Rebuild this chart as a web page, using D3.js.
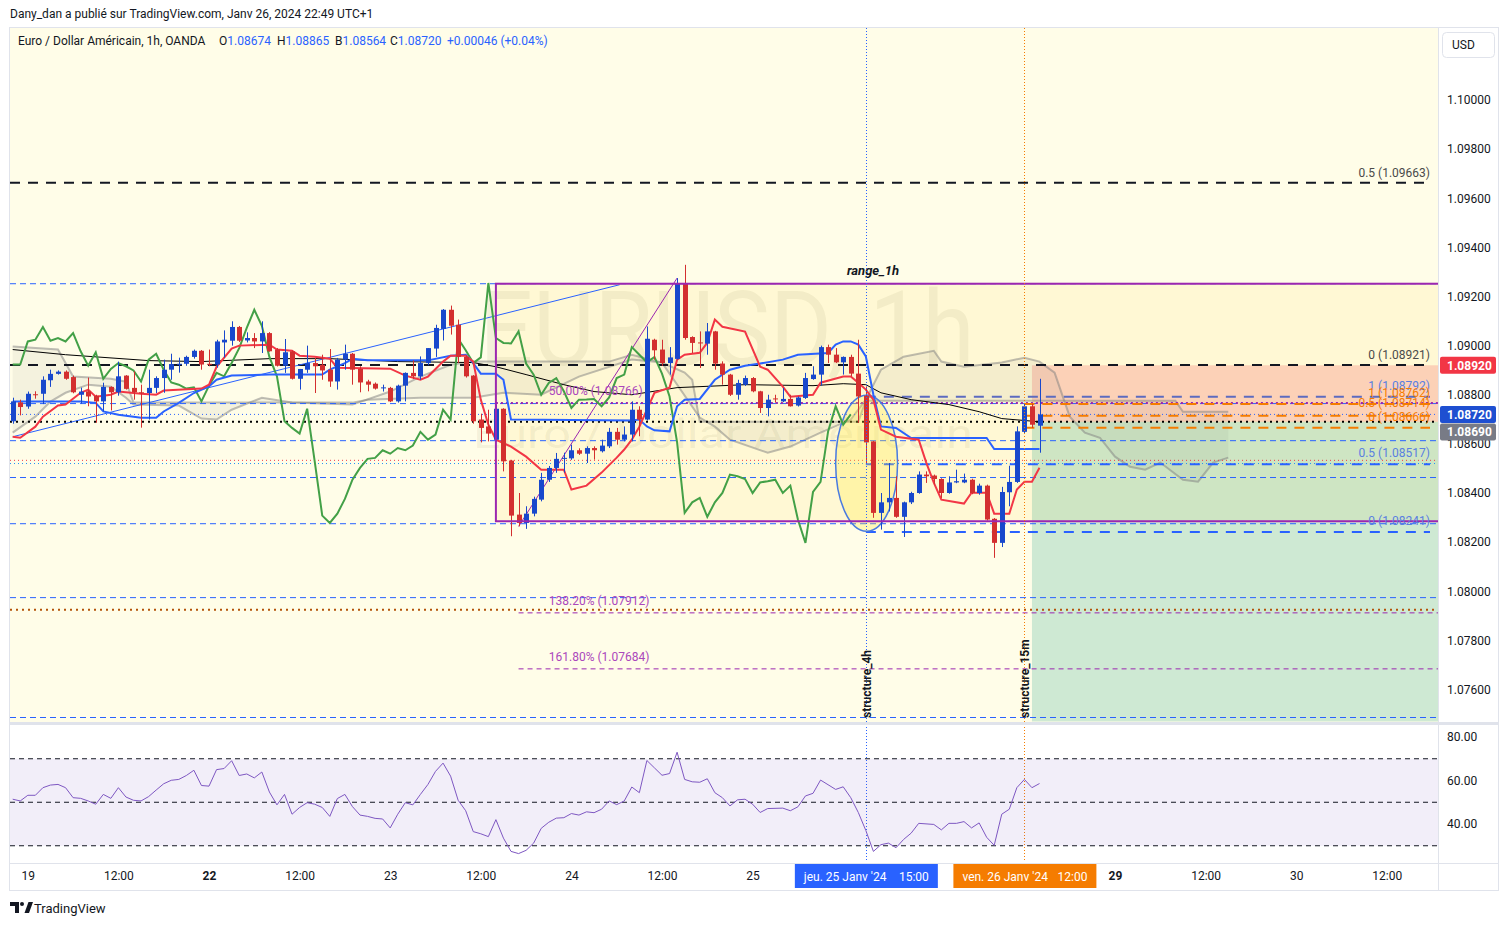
<!DOCTYPE html>
<html>
<head>
<meta charset="utf-8">
<script src="https://cdn.jsdelivr.net/npm/d3@7"></script>
<style>
  body { margin: 0; background: #fff; }
  svg { display: block; font-family: Roboto, "Liberation Sans", sans-serif; }
</style>
</head>
<body>
<script>
// EURUSD 1h candles, [open, high, low, close], bar 0 = 18 Jan 22:00
var candles = [
  [1.08692,1.08788,1.08682,1.08773],[1.08769,1.08780,1.08716,1.08750],[1.08752,1.08813,1.08743,1.08804],
  [1.08802,1.08814,1.08784,1.08798],[1.08804,1.08875,1.08762,1.08861],[1.08859,1.08902,1.08832,1.08885],
  [1.08885,1.08899,1.08882,1.08894],[1.08894,1.08899,1.08861,1.08865],[1.08872,1.08878,1.08806,1.08810],
  [1.08800,1.08829,1.08764,1.08813],[1.08814,1.08870,1.08753,1.08793],[1.08796,1.08800,1.08686,1.08773],
  [1.08773,1.08849,1.08732,1.08832],[1.08832,1.08834,1.08736,1.08810],[1.08810,1.08935,1.08796,1.08875],
  [1.08878,1.08880,1.08821,1.08824],[1.08828,1.08895,1.08780,1.08810],[1.08810,1.08841,1.08666,1.08807],
  [1.08807,1.08902,1.08699,1.08828],[1.08828,1.08875,1.08807,1.08868],[1.08868,1.08943,1.08808,1.08902],
  [1.08902,1.08967,1.08861,1.08925],[1.08924,1.08951,1.08890,1.08926],[1.08926,1.08959,1.08918,1.08954],
  [1.08954,1.08984,1.08947,1.08979],[1.08979,1.08982,1.08902,1.08923],[1.08926,1.08984,1.08916,1.08923],
  [1.08923,1.09024,1.08910,1.09017],[1.09013,1.09062,1.08951,1.09024],[1.09020,1.09099,1.09000,1.09076],
  [1.09076,1.09080,1.09015,1.09020],[1.09021,1.09054,1.09013,1.09031],[1.09031,1.09051,1.08990,1.09017],
  [1.09017,1.09099,1.08970,1.09051],[1.09051,1.09055,1.08975,1.08977],[1.08984,1.08990,1.08915,1.08918],
  [1.08918,1.09027,1.08889,1.08973],[1.08977,1.08980,1.08862,1.08865],[1.08865,1.08905,1.08821,1.08905],
  [1.08902,1.09000,1.08889,1.08929],[1.08929,1.08950,1.08807,1.08916],[1.08922,1.08963,1.08861,1.08899],
  [1.08902,1.08986,1.08832,1.08854],[1.08854,1.08950,1.08821,1.08943],[1.08943,1.09004,1.08902,1.08967],
  [1.08967,1.08970,1.08841,1.08902],[1.08905,1.08916,1.08810,1.08850],[1.08854,1.08861,1.08814,1.08841],
  [1.08845,1.08850,1.08821,1.08825],[1.08826,1.08841,1.08813,1.08830],[1.08828,1.08832,1.08770,1.08773],
  [1.08773,1.08841,1.08768,1.08837],[1.08837,1.08891,1.08773,1.08889],[1.08889,1.08940,1.08864,1.08875],
  [1.08875,1.08956,1.08861,1.08929],[1.08929,1.08990,1.08920,1.08990],[1.08988,1.09085,1.08954,1.09072],
  [1.09068,1.09149,1.09021,1.09146],[1.09146,1.09163,1.09045,1.09081],[1.09085,1.09106,1.08929,1.08954],
  [1.08954,1.08960,1.08870,1.08875],[1.08878,1.08880,1.08682,1.08692],[1.08699,1.08723,1.08606,1.08665],
  [1.08671,1.08739,1.08610,1.08642],[1.08617,1.08760,1.08609,1.08743],[1.08743,1.08745,1.08488,1.08529],
  [1.08532,1.08535,1.08224,1.08308],[1.08312,1.08400,1.08264,1.08278],[1.08278,1.08346,1.08254,1.08316],
  [1.08316,1.08385,1.08305,1.08376],[1.08373,1.08482,1.08366,1.08454],[1.08454,1.08510,1.08445,1.08502],
  [1.08502,1.08563,1.08482,1.08539],[1.08539,1.08564,1.08483,1.08543],[1.08541,1.08597,1.08535,1.08574],
  [1.08574,1.08582,1.08555,1.08560],[1.08560,1.08590,1.08522,1.08583],[1.08583,1.08590,1.08536,1.08574],
  [1.08570,1.08617,1.08565,1.08593],[1.08590,1.08665,1.08583,1.08649],[1.08649,1.08665,1.08597,1.08617],
  [1.08617,1.08671,1.08610,1.08638],[1.08638,1.08773,1.08610,1.08739],[1.08739,1.08753,1.08631,1.08699],
  [1.08699,1.09078,1.08695,1.09028],[1.09024,1.09028,1.08943,1.08981],[1.08984,1.09024,1.08918,1.08929],
  [1.08929,1.08994,1.08882,1.08952],[1.08946,1.09275,1.08943,1.09255],[1.09255,1.09329,1.09024,1.09031],
  [1.09035,1.09038,1.08970,1.09011],[1.09013,1.09058,1.08909,1.09009],[1.09008,1.09092,1.08963,1.09058],
  [1.09058,1.09060,1.08902,1.08927],[1.08927,1.08936,1.08841,1.08882],[1.08882,1.08885,1.08795,1.08800],
  [1.08800,1.08861,1.08780,1.08848],[1.08841,1.08878,1.08836,1.08868],[1.08868,1.08872,1.08810,1.08814],
  [1.08814,1.08816,1.08726,1.08746],[1.08746,1.08800,1.08712,1.08780],[1.08785,1.08800,1.08768,1.08781],
  [1.08773,1.08828,1.08770,1.08783],[1.08783,1.08800,1.08752,1.08753],[1.08756,1.08793,1.08752,1.08789],
  [1.08787,1.08889,1.08783,1.08868],[1.08864,1.08916,1.08861,1.08882],[1.08882,1.09000,1.08837,1.08994],
  [1.08994,1.09004,1.08929,1.08963],[1.08963,1.08990,1.08929,1.08932],[1.08932,1.08956,1.08882,1.08954],
  [1.08954,1.08963,1.08875,1.08886],[1.08886,1.09024,1.08685,1.08793],[1.08796,1.08834,1.08522,1.08606],
  [1.08610,1.08612,1.08299,1.08319],[1.08319,1.08400,1.08251,1.08362],[1.08362,1.08522,1.08325,1.08380],
  [1.08380,1.08468,1.08299,1.08303],[1.08303,1.08365,1.08221,1.08362],[1.08362,1.08405,1.08355,1.08400],
  [1.08400,1.08488,1.08397,1.08475],[1.08475,1.08488,1.08441,1.08468],[1.08471,1.08475,1.08434,1.08457],
  [1.08457,1.08460,1.08380,1.08400],[1.08400,1.08468,1.08397,1.08443],[1.08443,1.08495,1.08440,1.08448],
  [1.08443,1.08479,1.08440,1.08454],[1.08454,1.08458,1.08395,1.08400],[1.08400,1.08438,1.08393,1.08430],
  [1.08430,1.08434,1.08288,1.08292],[1.08295,1.08298,1.08136,1.08197],[1.08197,1.08425,1.08180,1.08404],
  [1.08403,1.08511,1.08346,1.08445],[1.08445,1.08671,1.08441,1.08651],[1.08649,1.08767,1.08644,1.08753],
  [1.08753,1.08764,1.08665,1.08678],[1.08674,1.08865,1.08564,1.08720]
];

// ichimoku lines, [bar, price]
var tenkan = [[0,1.08629],[1,1.08625],[3,1.08670],[4,1.08711],[6,1.08756],[7,1.08760],[9,1.08808],[10,1.08821],
  [11,1.08792],[13,1.08800],[14,1.08813],[17,1.08804],[19,1.08800],[20,1.08817],[25,1.08825],[26,1.08841],
  [27,1.08914],[29,1.08988],[30,1.09000],[34,1.09004],[35,1.08984],[37,1.08979],[38,1.08959],[40,1.08955],
  [42,1.08947],[43,1.08910],[50,1.08906],[52,1.08878],[54,1.08861],[55,1.08874],[57,1.08935],[58,1.08959],
  [60,1.08959],[61,1.08935],[62,1.08780],[63,1.08678],[64,1.08617],[66,1.08589],[68,1.08548],[70,1.08495],
  [73,1.08495],[74,1.08414],[76,1.08430],[78,1.08483],[80,1.08544],[81,1.08577],[82,1.08617],[83,1.08670],
  [85,1.08808],[87,1.08829],[88,1.08943],[89,1.08963],[91,1.08971],[92,1.09012],[93,1.09106],[94,1.09077],
  [97,1.09057],[99,1.08914],[100,1.08902],[102,1.08833],[103,1.08792],[106,1.08800],[107,1.08849],
  [110,1.08874],[111,1.08874],[112,1.08849],[113,1.08821],[114,1.08780],[115,1.08658],[117,1.08629],
  [120,1.08617],[121,1.08524],[122,1.08442],[123,1.08373],[126,1.08357],[127,1.08401],[129,1.08401],
  [130,1.08316],[132,1.08316],[133,1.08414],[134,1.08446],[135,1.08446],[136,1.08503]];
var kijun = [[0,1.08773],[9,1.08773],[11,1.08767],[12,1.08732],[14,1.08719],[17,1.08706],[19,1.08706],
  [20,1.08732],[22,1.08767],[24,1.08807],[26,1.08834],[27,1.08861],[29,1.08878],[34,1.08882],[41,1.08882],
  [42,1.08902],[44,1.08929],[45,1.08946],[47,1.08940],[55,1.08940],[58,1.08959],[60,1.08963],[61,1.08929],
  [62,1.08886],[64,1.08886],[65,1.08861],[66,1.08699],[82,1.08695],[83,1.08699],[84,1.08671],[85,1.08655],
  [87,1.08651],[88,1.08753],[89,1.08780],[91,1.08783],[93,1.08861],[95,1.08902],[97,1.08918],[99,1.08927],
  [102,1.08943],[104,1.08963],[108,1.08970],[109,1.09004],[110,1.09017],[111,1.09017],[112,1.09004],
  [113,1.08956],[114,1.08800],[115,1.08671],[117,1.08665],[119,1.08624],[129,1.08624],[130,1.08579],
  [136,1.08579]];
var spanA = [[0,1.08996],[6,1.08984],[8,1.08874],[13,1.08865],[15,1.08853],[16,1.08768],[45,1.08768],
  [47,1.08780],[54,1.08788],[61,1.08788],[65,1.08808],[70,1.08800],[75,1.08874],[82,1.08943],[86,1.08931],
  [89,1.08890],[90,1.08861],[91,1.08690],[112,1.08690],[113,1.08776],[154,1.08776],[155,1.08731],[161,1.08731]];
var spanB = [[0,1.08646],[3,1.08711],[5,1.08772],[7,1.08808],[10,1.08841],[13,1.08833],[15,1.08788],
  [16,1.08760],[22,1.08756],[25,1.08703],[27,1.08699],[29,1.08739],[33,1.08788],[37,1.08768],[45,1.08760],
  [50,1.08813],[54,1.08874],[58,1.08922],[61,1.08935],[79,1.08935],[82,1.08963],[86,1.08931],[91,1.08707],
  [93,1.08670],[95,1.08617],[100,1.08564],[103,1.08589],[107,1.08646],[111,1.08699],[113,1.08780],
  [115,1.08902],[118,1.08955],[122,1.08979],[123,1.08935],[126,1.08914],[131,1.08931],[134,1.08951],
  [136,1.08935],[138,1.08890],[140,1.08711],[142,1.08646],[144,1.08625],[146,1.08548],[148,1.08507],
  [150,1.08495],[152,1.08524],[155,1.08454],[157,1.08446],[159,1.08524],[161,1.08544]];
var chikouShift = 25;

// slow moving average
var ma = [[0,1.08984],[7,1.08963],[18,1.08939],[25,1.08935],[34,1.08947],[42,1.08947],[51,1.08935],
  [61,1.08931],[64,1.08914],[68,1.08882],[73,1.08841],[77,1.08813],[82,1.08800],[88,1.08829],[97,1.08841],
  [106,1.08837],[110,1.08845],[113,1.08841],[115,1.08808],[119,1.08780],[124,1.08760],[128,1.08731],
  [131,1.08703],[136,1.08690]];

// RSI 14, [bar, value]
var rsi = [[0,51.4],[1,50.6],[2,53.2],[3,53.2],[4,56.7],[5,57.9],[6,58.2],[7,56.7],[8,52.1],[9,51.8],
  [10,50.6],[11,49.1],[12,53.6],[13,51.8],[14,56.7],[15,52.4],[16,50.9],[17,50.6],[18,52.6],[19,55.6],
  [20,58.5],[21,60.1],[22,60.5],[23,62.3],[24,64.7],[25,57.7],[26,57.4],[27,65.0],[28,65.5],[29,69.1],
  [30,62.3],[31,63.0],[32,61.2],[33,63.9],[34,54.7],[35,48.8],[36,53.6],[37,44.5],[38,47.6],[39,49.8],
  [40,49.1],[41,47.6],[42,43.5],[43,51.7],[44,53.6],[45,48.0],[46,44.1],[47,43.5],[48,42.6],[49,42.3],
  [50,38.2],[51,44.5],[52,49.8],[53,48.8],[54,53.6],[55,58.2],[56,64.2],[57,68.0],[58,62.0],[59,50.9],
  [60,46.1],[61,36.5],[62,35.5],[63,34.2],[64,42.0],[65,33.5],[66,27.4],[67,26.4],[68,27.9],[69,31.2],
  [70,38.0],[71,40.8],[72,42.7],[73,42.9],[74,44.8],[75,44.1],[76,45.6],[77,45.2],[78,46.8],[79,50.6],
  [80,48.9],[81,50.6],[82,57.0],[83,54.4],[84,69.2],[85,65.8],[86,62.4],[87,63.2],[88,73.0],[89,60.5],
  [90,59.4],[91,59.2],[92,60.8],[93,54.4],[94,52.1],[95,48.3],[96,51.1],[97,51.4],[98,49.1],[99,45.3],
  [100,47.1],[102,47.3],[103,46.1],[104,47.9],[105,52.9],[106,54.1],[107,60.2],[109,55.9],[110,57.1],
  [111,52.1],[112,45.3],[113,37.0],[114,27.4],[115,30.5],[116,31.2],[117,29.1],[118,32.9],[119,35.8],
  [120,40.3],[122,39.8],[123,37.3],[124,40.3],[125,40.3],[126,41.1],[127,38.2],[128,40.5],[129,33.9],
  [130,30.2],[131,44.5],[132,46.8],[133,56.7],[134,60.5],[135,56.7],[136,58.6]];
var rsiBands = [70, 50, 30];

// drawings
var trendBlue = [[0,1.08629],[80.4,1.09248]];
var trendPurple = [[67,1.08264],[88,1.09275]];
var rangeBox = {bar: 64, top: 1.09252, bottom: 1.08285, label: "range_1h"};
var blackFib = [{label: "0.5", price: 1.09663}, {label: "0", price: 1.08921}];
var blueFib = [{label: "1", price: 1.08792}, {label: "0.5", price: 1.08517}, {label: "0", price: 1.08241}];
var orangeFib = [{label: "1", price: 1.08762}, {label: "0.5", price: 1.08714}, {label: "0", price: 1.08666}];
var extFib = [{label: "50.00%", price: 1.08766}, {label: "138.20%", price: 1.07912}, {label: "161.80%", price: 1.07684}];
var blueDashLevels = [1.09252, 1.08764, 1.08613, 1.08463, 1.08275, 1.07974, 1.07486];
var redDotLevel = 1.08533, cyanDotLevel = 1.08520, brownDotLevel = 1.07925, entryLevel = 1.08690;
var position = {bar: 135, entry: 1.08690, stop: 1.08920, target: 1.07470};
var oval = {bars: [109, 117.2], prices: [1.08798, 1.08244]};
var markers = [{bar: 113, name: "structure_4h", date: "jeu. 25 Janv '24", time: "15:00"},
               {bar: 134, name: "structure_15m", date: "ven. 26 Janv '24", time: "12:00"}];

// axes
var priceTicks = [1.076, 1.078, 1.080, 1.082, 1.084, 1.086, 1.088, 1.090, 1.092, 1.094, 1.096, 1.098, 1.100];
var rsiTicks = [40, 60, 80];
var timeBars = [2, 14, 26, 38, 50, 62, 74, 86, 98, 146, 158, 170, 182];
var timeLabels = ["19", "12:00", "22", "12:00", "23", "12:00", "24", "12:00", "25", "29", "12:00", "30", "12:00"];
var boldTimes = ["22", "29"];
var lastPrice = {open: 1.08674, high: 1.08865, low: 1.08564, close: 1.08720, change: "+0.00046 (+0.04%)"};

var totalWidth = 1508;
var totalHeight = 926;
var pane = {left: 10, right: 1438, top: 28, bottom: 722};
var rsiPane = {top: 725, bottom: 862};
var axisBottomY = 863;
var fibRight = 1430;

var upColor = "#1848cc", downColor = "#d32f2f";

var x = d3.scaleLinear().domain([0, 136]).range([12.7, 12.7 + 136 * 7.55]);
var y = d3.scaleLinear().domain([1.076, 1.100]).range([689.5, 100]);
var yR = d3.scaleLinear().domain([40, 80]).range([824, 737]);

var line = d3.line()
  .x(function(d) { return x(d[0]); })
  .y(function(d) { return y(d[1]); });

function translation(tx, ty) {
  return "translate(" + tx + "," + ty + ")";
}

var svg = d3.select("body").append("svg")
  .attr("width", totalWidth)
  .attr("height", totalHeight);

svg.append("rect").attr("width", totalWidth).attr("height", totalHeight).attr("fill", "#fff");

// header
svg.append("text")
  .attr("x", 10).attr("y", 18)
  .attr("font-size", 12).attr("fill", "#131722")
  .text("Dany_dan a publié sur TradingView.com, Janv 26, 2024 22:49 UTC+1");

// frame
svg.append("rect")
  .attr("x", 9.5).attr("y", 27.5).attr("width", 1489).attr("height", 863)
  .attr("fill", "none").attr("stroke", "#e0e3eb");

var defs = svg.append("defs");
defs.append("clipPath").attr("id", "clipMain").append("rect")
  .attr("x", pane.left).attr("y", pane.top)
  .attr("width", pane.right - pane.left).attr("height", pane.bottom - pane.top);
defs.append("clipPath").attr("id", "clipRsi").append("rect")
  .attr("x", pane.left).attr("y", rsiPane.top)
  .attr("width", pane.right - pane.left).attr("height", rsiPane.bottom - rsiPane.top);

var main = svg.append("g").attr("clip-path", "url(#clipMain)");

main.append("rect")
  .attr("x", pane.left).attr("y", pane.top)
  .attr("width", pane.right - pane.left).attr("height", pane.bottom - pane.top)
  .attr("fill", "#fffde8");

// range box fill
main.append("rect")
  .attr("x", x(rangeBox.bar)).attr("y", y(rangeBox.top))
  .attr("width", pane.right - x(rangeBox.bar) + 5)
  .attr("height", y(rangeBox.bottom) - y(rangeBox.top))
  .attr("fill", "rgba(255,213,79,0.13)");

// short position zones
main.append("rect")
  .attr("x", x(position.bar)).attr("y", y(position.stop))
  .attr("width", pane.right - x(position.bar))
  .attr("height", y(position.entry) - y(position.stop))
  .attr("fill", "rgba(242,54,69,0.2)");
main.append("rect")
  .attr("x", x(position.bar)).attr("y", y(position.entry))
  .attr("width", pane.right - x(position.bar))
  .attr("height", y(position.target) - y(position.entry))
  .attr("fill", "rgba(8,153,129,0.2)");

// watermark
main.append("text")
  .attr("x", 727).attr("y", 365)
  .attr("text-anchor", "middle")
  .attr("font-size", 104)
  .attr("textLength", 495).attr("lengthAdjust", "spacingAndGlyphs")
  .attr("fill", "rgba(90,80,30,0.07)")
  .text("EURUSD, 1h");
main.append("text")
  .attr("x", 723).attr("y", 448)
  .attr("text-anchor", "middle")
  .attr("font-size", 40)
  .attr("textLength", 500).attr("lengthAdjust", "spacingAndGlyphs")
  .attr("fill", "rgba(90,80,30,0.07)")
  .text("Euro / Dollar Américain");

// cloud
var cloudPts = spanA.concat(spanB.slice().reverse());
main.append("path")
  .attr("d", line(cloudPts) + "Z")
  .attr("fill", "rgba(120,120,110,0.08)")
  .attr("fill-rule", "evenodd");
[spanA, spanB].forEach(function(s) {
  main.append("path")
    .attr("d", line(s))
    .attr("fill", "none")
    .attr("stroke", "rgba(128,128,128,0.5)")
    .attr("stroke-width", 2);
});

var hline = function(g, price, x1, x2, color, width, dash) {
  g.append("line")
    .attr("x1", x1).attr("x2", x2)
    .attr("y1", y(price)).attr("y2", y(price))
    .attr("stroke", color)
    .attr("stroke-width", width)
    .attr("stroke-dasharray", dash);
};

// horizontal levels
blueDashLevels.forEach(function(p) {
  hline(main, p, pane.left, pane.right, "#2962ff", 1, "6,4");
});
hline(main, redDotLevel, pane.left, pane.right, "#f23645", 1, "1,3");
hline(main, cyanDotLevel, pane.left, pane.right, "#2196f3", 1, "1,3");
hline(main, brownDotLevel, pane.left, pane.right, "#b45309", 2, "2,4");
hline(main, lastPrice.close, pane.left, pane.right, "#2962ff", 1, "1,3");
hline(main, entryLevel, pane.left, pane.right, "#000", 2, "2,4");

blackFib.forEach(function(f) {
  hline(main, f.price, pane.left, fibRight, "#131722", 2, "10,8");
});
extFib.forEach(function(f, i) {
  var start = i === 0 ? x(rangeBox.bar) : x(67);
  hline(main, f.price, start, pane.right, "#9c27b0", i === 0 ? 2 : 1, i === 0 ? "2,3" : "5,4");
});
blueFib.forEach(function(f, i) {
  hline(main, f.price, x(113), fibRight, i === 0 ? "#5c6bc0" : "#2962ff", 2, "10,8");
});
orangeFib.forEach(function(f) {
  hline(main, f.price, x(134), fibRight, "#f57c00", 2, "10,8");
});

// oval
main.append("ellipse")
  .attr("cx", (x(oval.bars[0]) + x(oval.bars[1])) / 2)
  .attr("cy", (y(oval.prices[0]) + y(oval.prices[1])) / 2)
  .attr("rx", (x(oval.bars[1]) - x(oval.bars[0])) / 2)
  .attr("ry", (y(oval.prices[1]) - y(oval.prices[0])) / 2)
  .attr("fill", "rgba(255,235,59,0.28)")
  .attr("stroke", "#4a7be0")
  .attr("stroke-width", 1.5);

// trend lines
main.append("path").attr("d", line(trendBlue))
  .attr("fill", "none").attr("stroke", "#2962ff").attr("stroke-width", 1);
main.append("path").attr("d", line(trendPurple))
  .attr("fill", "none").attr("stroke", "#9c27b0").attr("stroke-width", 1);

// indicators
var chikou = d3.range(0, candles.length - chikouShift).map(function(b) {
  return [b, candles[b + chikouShift][3]];
});
main.append("path").attr("d", line(ma))
  .attr("fill", "none").attr("stroke", "#000").attr("stroke-width", 1);
main.append("path").attr("d", line(chikou))
  .attr("fill", "none").attr("stroke", "#43a047").attr("stroke-width", 2);
main.append("path").attr("d", line(kijun))
  .attr("fill", "none").attr("stroke", "#2962ff").attr("stroke-width", 2);
main.append("path").attr("d", line(tenkan))
  .attr("fill", "none").attr("stroke", "#f23645").attr("stroke-width", 2);

// candles
var bars = main.append("g").selectAll("g")
  .data(candles)
  .enter().append("g");
bars.append("line")
  .attr("x1", function(d, i) { return Math.round(x(i)) + 0.5; })
  .attr("x2", function(d, i) { return Math.round(x(i)) + 0.5; })
  .attr("y1", function(d) { return y(d[1]); })
  .attr("y2", function(d) { return y(d[2]); })
  .attr("stroke", function(d) { return d[3] >= d[0] ? upColor : downColor; });
bars.append("rect")
  .attr("x", function(d, i) { return Math.round(x(i)) - 2; })
  .attr("width", 5)
  .attr("y", function(d) { return y(Math.max(d[0], d[3])); })
  .attr("height", function(d) { return Math.max(1, Math.abs(y(d[0]) - y(d[3]))); })
  .attr("fill", function(d) { return d[3] >= d[0] ? upColor : downColor; });

// range box outline and name
main.append("rect")
  .attr("x", x(rangeBox.bar)).attr("y", y(rangeBox.top))
  .attr("width", pane.right - x(rangeBox.bar) + 5)
  .attr("height", y(rangeBox.bottom) - y(rangeBox.top))
  .attr("fill", "none").attr("stroke", "#9c27b0").attr("stroke-width", 2);
main.append("text")
  .attr("x", 873).attr("y", y(rangeBox.top) - 9)
  .attr("text-anchor", "middle")
  .attr("font-size", 13).attr("font-weight", "bold").attr("font-style", "italic")
  .attr("fill", "#131722")
  .text(rangeBox.label);

// fib labels
var fmt5 = d3.format(".5f");
var fibLabel = function(list, color, xPos, anchor, dy) {
  list.forEach(function(f, i) {
    main.append("text")
      .attr("x", xPos).attr("y", y(f.price) - dy[i])
      .attr("text-anchor", anchor)
      .attr("font-size", 12)
      .attr("fill", color)
      .text(f.label + " (" + fmt5(f.price) + ")");
  });
};
fibLabel(blackFib, "#4a4a4a", fibRight, "end", [6, 6]);
fibLabel(blueFib, "#5a7fe0", fibRight, "end", [7, 7, 7]);
fibLabel(orangeFib, "#f57c00", fibRight, "end", [7, 9, 7]);
fibLabel(extFib, "#ab47bc", x(71), "start", [8, 8, 8]);

// vertical markers
markers.forEach(function(m, i) {
  var color = i === 0 ? "#2962ff" : "#f57c00";
  svg.append("line")
    .attr("x1", Math.round(x(m.bar)) + 0.5).attr("x2", Math.round(x(m.bar)) + 0.5)
    .attr("y1", pane.top).attr("y2", rsiPane.bottom)
    .attr("stroke", color).attr("stroke-width", 1).attr("stroke-dasharray", "1,2");
  svg.append("text")
    .attr("transform", translation(x(m.bar) + 5, 718) + " rotate(-90)")
    .attr("font-size", 12).attr("font-weight", "bold").attr("fill", "#131722")
    .text(m.name);
});

// pane separators
svg.append("rect").attr("x", pane.left).attr("y", pane.bottom).attr("width", 1488).attr("height", 3)
  .attr("fill", "#e0e3eb");
svg.append("line").attr("x1", pane.left).attr("x2", 1498).attr("y1", axisBottomY + 0.5).attr("y2", axisBottomY + 0.5)
  .attr("stroke", "#e0e3eb");
svg.append("line").attr("x1", pane.right + 0.5).attr("x2", pane.right + 0.5).attr("y1", pane.top).attr("y2", 890)
  .attr("stroke", "#e0e3eb");

// RSI pane
var rsiG = svg.append("g").attr("clip-path", "url(#clipRsi)");
rsiG.append("rect")
  .attr("x", pane.left).attr("width", pane.right - pane.left)
  .attr("y", yR(rsiBands[0])).attr("height", yR(rsiBands[2]) - yR(rsiBands[0]))
  .attr("fill", "rgba(126,87,194,0.1)");
rsiBands.forEach(function(v) {
  rsiG.append("line")
    .attr("x1", pane.left).attr("x2", pane.right)
    .attr("y1", yR(v)).attr("y2", yR(v))
    .attr("stroke", "#131722").attr("stroke-width", 1).attr("stroke-dasharray", "5,4");
});
rsiG.append("path")
  .attr("d", d3.line().x(function(d) { return x(d[0]); }).y(function(d) { return yR(d[1]); })(rsi))
  .attr("fill", "none").attr("stroke", "#7e57c2").attr("stroke-width", 1);

// axes
var priceAxis = svg.append("g")
  .attr("transform", translation(pane.right, 0))
  .call(d3.axisRight(y).tickValues(priceTicks).tickFormat(fmt5).tickSize(0).tickPadding(9));
var rsiAxis = svg.append("g")
  .attr("transform", translation(pane.right, 0))
  .call(d3.axisRight(yR).tickValues(rsiTicks).tickFormat(d3.format(".2f")).tickSize(0).tickPadding(9));
var timeAxis = svg.append("g")
  .attr("transform", translation(0, axisBottomY))
  .call(d3.axisBottom(x).tickValues(timeBars)
    .tickFormat(function(d, i) { return timeLabels[i]; })
    .tickSize(0).tickPadding(8));
[priceAxis, rsiAxis, timeAxis].forEach(function(a) {
  a.select(".domain").remove();
  a.selectAll("text").attr("font-size", 12).attr("fill", "#131722")
    .attr("font-family", "Roboto, 'Liberation Sans', sans-serif");
});
timeAxis.selectAll("text")
  .attr("font-weight", function(d, i) { return boldTimes.indexOf(timeLabels[i]) >= 0 ? "bold" : null; });

// axis price badges
var badge = function(price, color, cy) {
  svg.append("rect")
    .attr("x", pane.right + 2).attr("y", cy - 8.5)
    .attr("width", 56).attr("height", 17).attr("rx", 2)
    .attr("fill", color);
  svg.append("text")
    .attr("x", pane.right + 9).attr("y", cy + 4.5)
    .attr("font-size", 12).attr("font-weight", "bold").attr("fill", "#fff")
    .text(fmt5(price));
};
badge(position.stop, "#f23645", y(position.stop));
badge(lastPrice.close, "#1e4fd1", y(lastPrice.close));
badge(entryLevel, "#787b86", y(lastPrice.close) + 17.5);

// currency box
svg.append("rect")
  .attr("x", 1442.5).attr("y", 32.5).attr("width", 52).attr("height", 25).attr("rx", 4)
  .attr("fill", "#fff").attr("stroke", "#e0e3eb");
svg.append("text")
  .attr("x", 1452).attr("y", 49).attr("font-size", 12).attr("fill", "#131722").text("USD");

// time badges
markers.forEach(function(m, i) {
  var cx = x(m.bar);
  svg.append("rect")
    .attr("x", cx - 71).attr("y", 864).attr("width", 143).attr("height", 24)
    .attr("fill", i === 0 ? "#2962ff" : "#f57c00");
  svg.append("text")
    .attr("x", cx - 62).attr("y", 881)
    .attr("font-size", 12).attr("fill", "#fff").text(m.date);
  svg.append("text")
    .attr("x", cx + 63).attr("y", 881).attr("text-anchor", "end")
    .attr("font-size", 12).attr("fill", "#fff").text(m.time);
});

// legend
var legend = svg.append("text")
  .attr("x", 18).attr("y", 45)
  .attr("font-size", 12).attr("fill", "#131722");
legend.append("tspan").text("Euro / Dollar Américain, 1h, OANDA");
[["O", lastPrice.open, 219], ["H", lastPrice.high, 277], ["B", lastPrice.low, 335], ["C", lastPrice.close, 390]]
  .forEach(function(d) {
    legend.append("tspan").attr("x", d[2]).text(d[0]);
    legend.append("tspan").attr("fill", "#2962ff").text(fmt5(d[1]));
  });
legend.append("tspan").attr("x", 447).attr("fill", "#2962ff").text(lastPrice.change);

// TradingView mark
var logo = svg.append("g").attr("fill", "#131722");
logo.append("path").attr("d", "M10 902h9v11h-4v-7h-5z");
logo.append("circle").attr("cx", 22).attr("cy", 904).attr("r", 2);
logo.append("path").attr("d", "M24.5 913l4-11h4.5l-4 11z");
svg.append("text")
  .attr("x", 34).attr("y", 913)
  .attr("font-size", 13).attr("fill", "#131722")
  .text("TradingView");
</script>
</body>
</html>
